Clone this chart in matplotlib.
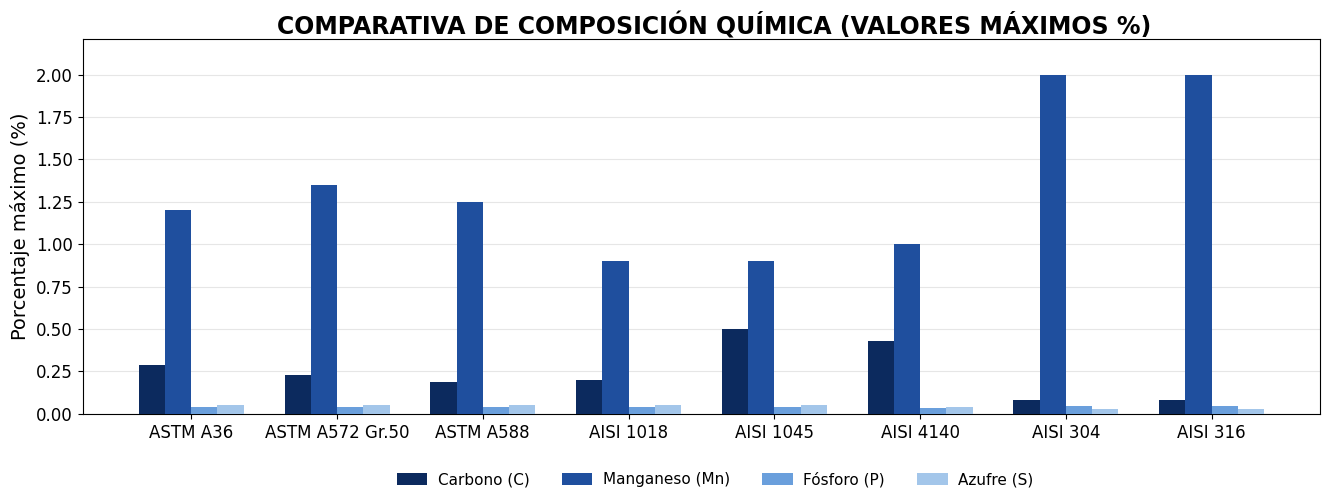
import matplotlib
matplotlib.use("Agg")
import matplotlib.pyplot as plt
import numpy as np

# maximum chemical composition per steel grade (%)
grades = ["ASTM A36", "ASTM A572 Gr.50", "ASTM A588", "AISI 1018",
          "AISI 1045", "AISI 4140", "AISI 304", "AISI 316"]
carbono = [0.29, 0.23, 0.19, 0.20, 0.50, 0.43, 0.08, 0.08]
manganeso = [1.20, 1.35, 1.25, 0.90, 0.90, 1.00, 2.00, 2.00]
fosforo = [0.04, 0.04, 0.04, 0.04, 0.04, 0.035, 0.045, 0.045]
azufre = [0.05, 0.05, 0.05, 0.05, 0.05, 0.04, 0.03, 0.03]

series = [("Carbono (C)", carbono, "#0c2a5e"),
          ("Manganeso (Mn)", manganeso, "#1f4f9e"),
          ("Fósforo (P)", fosforo, "#6a9fdc"),
          ("Azufre (S)", azufre, "#a3c6ea")]

fig = plt.figure(figsize=(13.31, 4.88), dpi=100)
ax = fig.add_axes([0.062, 0.152, 0.930, 0.768])

x = np.arange(len(grades))
w = 0.18
for i, (name, vals, col) in enumerate(series):
    ax.bar(x + (i - 1.5) * w, vals, w, label=name, color=col, zorder=3)

ax.set_xticks(x)
ax.set_xticklabels(grades, fontsize=12)
ax.tick_params(axis="y", labelsize=12)
ax.set_ylim(0, 2.21)
ax.set_yticks(np.arange(0, 2.01, 0.25))
ax.set_yticklabels([f"{v:.2f}" for v in np.arange(0, 2.01, 0.25)])
ax.yaxis.grid(True, color="#e6e6e6", linewidth=0.8, zorder=0)
ax.set_axisbelow(True)
ax.set_ylabel("Porcentaje máximo (%)", fontsize=14)
ax.set_title("COMPARATIVA DE COMPOSICIÓN QUÍMICA (VALORES MÁXIMOS %)",
             fontsize=17, fontweight="bold", pad=3, x=0.51)

ax.legend(loc="center", bbox_to_anchor=(0.511, -0.175), ncol=4,
          frameon=False, fontsize=11, columnspacing=2.1, handlelength=2.0,
          handleheight=0.9, handletextpad=0.7)

fig.savefig("out.png", dpi=100)
